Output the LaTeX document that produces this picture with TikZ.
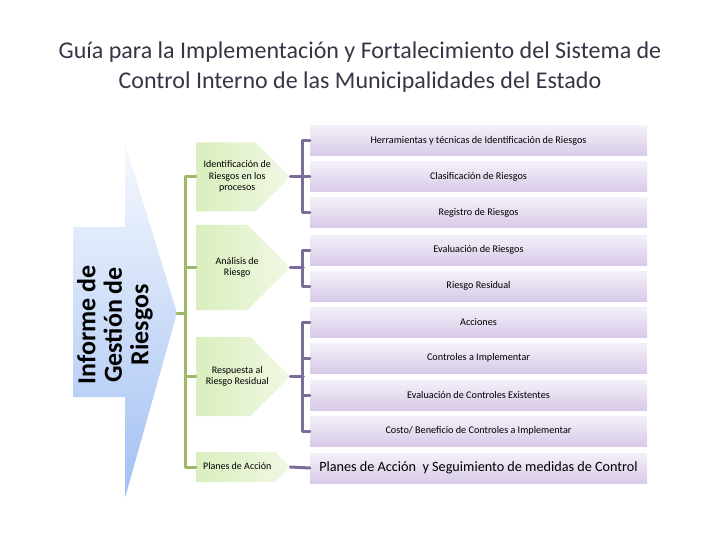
\documentclass[tikz,border=0pt]{standalone}
\usepackage{fontspec}
\setmainfont{Carlito}
\usetikzlibrary{calc}

\definecolor{grnline}{HTML}{9EB868}
\definecolor{purline}{HTML}{7D6B98}
\definecolor{grnL}{HTML}{DAEEBE}
\definecolor{grnR}{HTML}{F0F8E4}
\definecolor{purT}{HTML}{F4F0F9}
\definecolor{purB}{HTML}{D8CAE8}
\definecolor{bluT}{HTML}{F6F9FE}
\definecolor{bluB}{HTML}{A2C0F3}
\definecolor{titl}{HTML}{353545}

% stage text sits a little left of the middle
\newcommand{\stagetext}[1]{\begin{tabular}{@{}c@{}}#1\end{tabular}\makebox[12pt]{}}

\begin{document}
\begin{tikzpicture}[line cap=round,line join=round,x=1pt,y=-1pt,
  stage/.style={rectangle,anchor=west,minimum width=94pt,inner sep=0pt,
    font=\fontsize{10}{11.5}\selectfont,
    path picture={\shade[left color=grnL,right color=grnR]
      let \p1=(path picture bounding box.south west),
          \p2=(path picture bounding box.north east),
          \n1={(\y2-\y1)/2} in
      (\x1,\y1) -- (\x1,\y2) -- ({\x2-\n1*1pt},\y2) -- (\x2,{\y1+\n1*1pt})
      -- ({\x2-\n1*1pt},\y1) -- cycle;}},
  item/.style={rectangle,minimum width=337pt,minimum height=30pt,
    top color=purT,bottom color=purB,font=\fontsize{10.2}{12}\selectfont},
  grn/.style={draw=grnline,line width=3pt},
  pur/.style={draw=purline,line width=3pt}]
\useasboundingbox (0,0) rectangle (720,540);

% title
\node[font=\fontsize{24}{30}\selectfont,text=titl,align=center] (title) at (360,67)
  {Guía para la Implementación y Fortalecimiento del Sistema de\\Control Interno de las Municipalidades del Estado};

% big arrow
\coordinate (tip) at (177,313);
\shade[top color=bluT,bottom color=bluB] (73,227) -- (125,227) -- (125,143) -- (tip)
  -- (125,498) -- (125,397) -- (73,397) -- cycle;
\node[rotate=90,align=center,font=\bfseries\fontsize{26}{26.5}\selectfont] (informe) at (115,325)
  {Informe de\\Gestión de\\Riesgos};

% stages
\node[stage,minimum height=69pt] (ident) at (196,177) {\stagetext{Identificación de\\Riesgos en los\\procesos}};
\node[stage,minimum height=85pt] (anal) at (196,267.5) {\stagetext{Análisis de\\Riesgo}};
\node[stage,minimum height=79pt] (resp) at (196,376.5) {\stagetext{Respuesta al\\Riesgo Residual}};
\node[stage,minimum height=30pt] (plan) at (196,467) {\stagetext{Planes de Acción}};

% items
\node[item] (herr) at (478.5,141) {Herramientas y técnicas de Identificación de Riesgos};
\node[item] (clas) at (478.5,177) {Clasificación de Riesgos};
\node[item] (regi) at (478.5,212.5) {Registro de Riesgos};
\node[item] (eval) at (478.5,250) {Evaluación de Riesgos};
\node[item] (resi) at (478.5,286) {Riesgo Residual};
\node[item] (acci) at (478.5,322) {Acciones};
\node[item] (ctrl) at (478.5,358) {Controles a Implementar};
\node[item] (evct) at (478.5,395) {Evaluación de Controles Existentes};
\node[item] (cost) at (478.5,431) {Costo/ Beneficio de Controles a Implementar};
\node[item,font=\fontsize{14.2}{16}\selectfont] (segu) at (478.5,468)
  {Planes de Acción \ y Seguimiento de medidas de Control};

% green bracket
\draw[grn] (ident.west) -- ++(-11,0) |- (plan.west);
\draw[grn] (anal.west) -- ++(-11,0);
\draw[grn] (resp.west) -- ++(-11,0);
\draw[grn] (tip) -- ++(8,0);

% purple brackets
\draw[pur] (herr.west) -- ++(-7,0) |- (regi.west);
\draw[pur] (ident.east) -- (clas.west);
\draw[pur] (eval.west) -- ++(-7,0) |- (resi.west);
\draw[pur] (anal.east) -- ++(13,0);
\draw[pur] (acci.west) -- ++(-7,0) |- (cost.west);
\draw[pur] (ctrl.west) -- ++(-7,0);
\draw[pur] (evct.west) -- ++(-7,0);
\draw[pur] (resp.east) -- ++(13,0);
\draw[pur] (plan.east) -- (segu.west);
\end{tikzpicture}
\end{document}
